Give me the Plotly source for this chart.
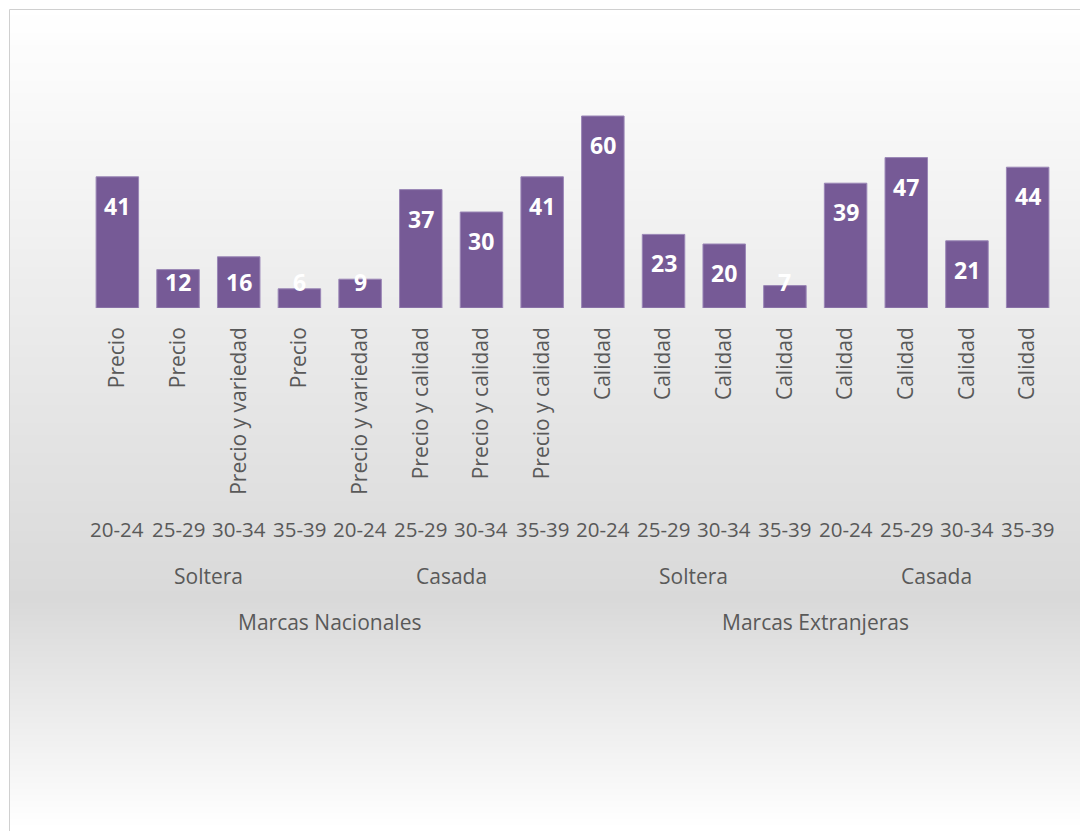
import plotly.graph_objects as go

# ---------------- data ----------------
reasons = ["Precio", "Precio", "Precio y variedad", "Precio",
           "Precio y variedad", "Precio y calidad", "Precio y calidad", "Precio y calidad",
           "Calidad", "Calidad", "Calidad", "Calidad",
           "Calidad", "Calidad", "Calidad", "Calidad"]
ages = ["20-24", "25-29", "30-34", "35-39"] * 4
marital = ["Soltera", "Casada", "Soltera", "Casada"]
brands = ["Marcas Nacionales", "Marcas Extranjeras"]
values = [41, 12, 16, 6, 9, 37, 30, 41, 60, 23, 20, 7, 39, 47, 21, 44]

# ---------------- layout geometry (pixels) ----------------
W, H = 1080, 831
L, R, T, B = 87, 22, 68, 523
PW = W - L - R
PH = H - T - B

def px(xp):
    return (xp - L) / PW

def py(yp):
    return (H - B - yp) / PH

TXT = "#595959"
FONT = "Open Sans"
FS = 21

idx = list(range(len(values)))

fig = go.Figure()
fig.add_trace(go.Bar(
    x=idx, y=values,
    marker=dict(color="#765a96", line=dict(color="#9a86b6", width=1)),
    hoverinfo="skip",
))

# ---------------- background gradient ----------------
shapes = []
top_px, dark_px, bot_px = 9, 600, 831
def shade(yp):
    if yp <= dark_px:
        t = (yp - top_px) / (dark_px - top_px)
    else:
        t = (bot_px - yp) / (bot_px - dark_px)
    t = max(0.0, min(1.0, t))
    v = round(255 - t * (255 - 217))
    return f"rgb({v},{v},{v})"

step = 6
yp = top_px
while yp < H:
    y2 = min(yp + step, H)
    shapes.append(dict(type="rect", xref="paper", yref="paper",
                       x0=px(9), x1=px(W + 5), y0=py(y2 + 0.5), y1=py(yp),
                       fillcolor=shade((yp + y2) / 2), line=dict(width=0),
                       layer="below"))
    yp = y2
# frame lines (left and top)
shapes.append(dict(type="line", xref="paper", yref="paper",
                   x0=px(9.5), x1=px(9.5), y0=py(H + 5), y1=py(9.5),
                   line=dict(color="#d0d0d0", width=1), layer="below"))
shapes.append(dict(type="line", xref="paper", yref="paper",
                   x0=px(9.5), x1=px(W + 5), y0=py(9.5), y1=py(9.5),
                   line=dict(color="#d0d0d0", width=1), layer="below"))

# ---------------- annotations ----------------
ann = []
# data labels
for i, v in zip(idx, values):
    ann.append(dict(x=i, y=max(v, 17.2), xref="x", yref="y", text=str(v),
                    showarrow=False, yanchor="middle", yshift=-29,
                    font=dict(family=FONT, size=23, color="white", weight="bold")))
# age level
for i, a in zip(idx, ages):
    ann.append(dict(x=i, y=0, xref="x", yref="paper", text=a, showarrow=False,
                    yanchor="middle", yshift=-221,
                    font=dict(family=FONT, size=FS - 0.5, color=TXT)))
# marital level
for g, m in enumerate(marital):
    ann.append(dict(x=g * 4 + 1.5, y=0, xref="x", yref="paper", text=m,
                    showarrow=False, yanchor="middle", yshift=-268,
                    font=dict(family=FONT, size=FS, color=TXT)))
# brand level
for g, b in enumerate(brands):
    ann.append(dict(x=g * 8 + 3.5, y=0, xref="x", yref="paper", text=b,
                    showarrow=False, yanchor="middle", yshift=-314,
                    font=dict(family=FONT, size=FS, color=TXT)))

fig.update_layout(
    width=W, height=H, autosize=False,
    margin=dict(l=L, r=R, t=T, b=B, pad=0),
    paper_bgcolor="white", plot_bgcolor="rgba(0,0,0,0)",
    bargap=0.3, showlegend=False,
    shapes=shapes, annotations=ann,
    font=dict(family=FONT, color=TXT),
)
fig.update_xaxes(
    tickmode="array", tickvals=idx, ticktext=reasons, tickangle=-90,
    range=[-0.5, len(values) - 0.5], showgrid=False, zeroline=False,
    showline=False, ticks="", ticklabelstandoff=14,
    tickfont=dict(family=FONT, size=FS, color=TXT),
)
fig.update_yaxes(visible=False, range=[0, 75], showgrid=False, zeroline=False)

fig.write_html("out.html", config={"displayModeBar": False},
               post_script="document.body.style.margin='0';document.body.style.overflow='hidden';")
